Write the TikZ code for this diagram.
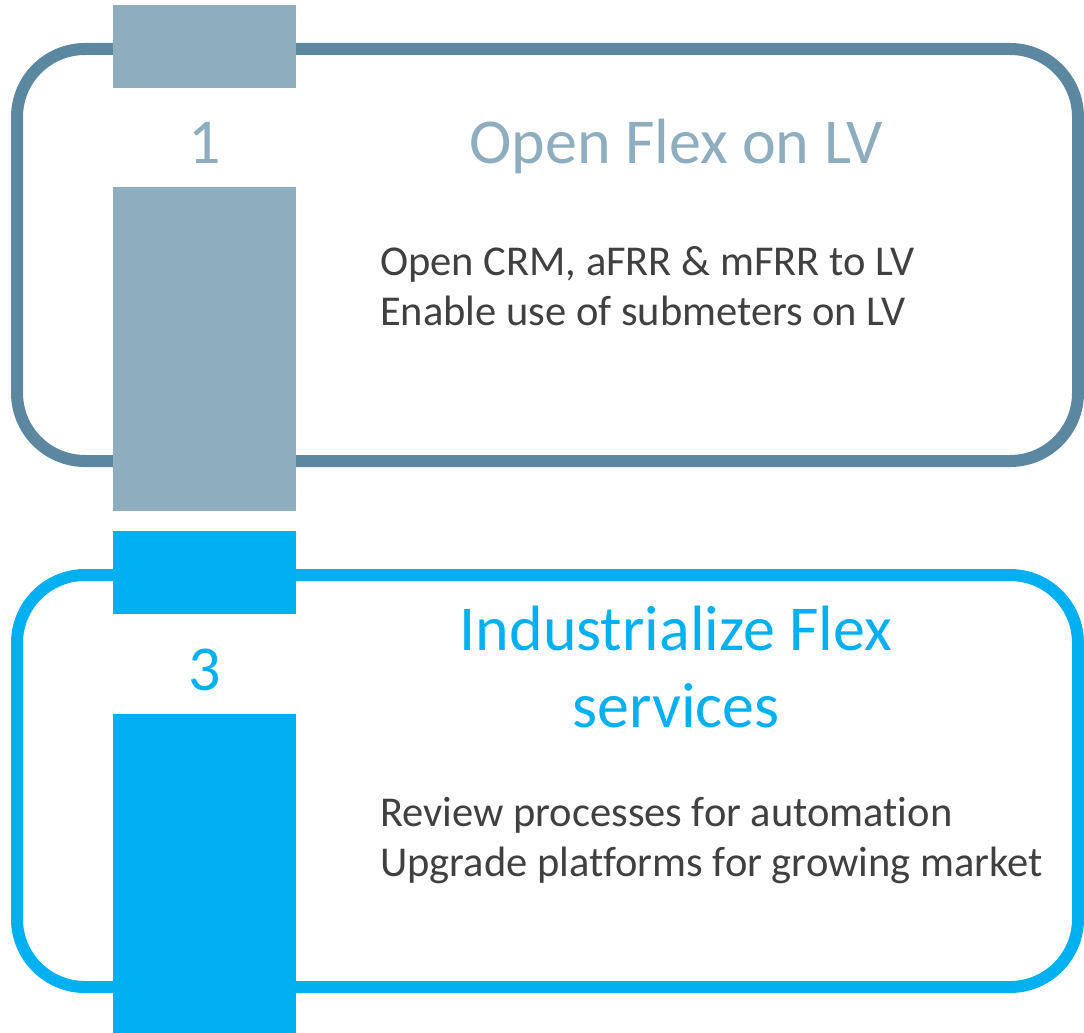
\documentclass[tikz,border=0pt]{standalone}
\usepackage{fontspec}
\setmainfont[Ligatures=NoCommon]{Carlito}
\definecolor{slateline}{HTML}{5B87A0}
\definecolor{slatebar}{HTML}{8EADBE}
\definecolor{skyblue}{HTML}{00B0F0}
\definecolor{bodygray}{HTML}{404040}
\tikzset{
  frame/.style={line width=12pt, rounded corners=68pt, fill=white},
  numlabel/.style={font=\fontsize{64}{64}\selectfont, anchor=base},
  titlelabel/.style={font=\fontsize{64}{77}\selectfont, anchor=base, align=center},
  bodylabel/.style={font=\fontsize{42.5}{50}\selectfont, text=bodygray, anchor=base west, align=left, inner sep=0pt},
}
\begin{document}
\begin{tikzpicture}[x=1pt,y=-1pt]
\useasboundingbox (0,0) rectangle (1084,1033);

% step 1: slate frame and bar (multi-line nodes sit on their last baseline)
\draw[frame, draw=slateline] (17,49) rectangle (1078,461);
\fill[slatebar] (113,5) rectangle (296,88);
\fill[slatebar] (113,187) rectangle (296,511);
\node[numlabel, text=slatebar] (n1) at (204.5,163) {1};
\node[titlelabel, text=slatebar] (t1) at (676,163) {Open Flex on LV};
\node[bodylabel] (b1) at (380,325) {Open CRM, aFRR \& mFRR to LV\\Enable use of submeters on LV};

% step 3: blue frame and bar
\draw[frame, draw=skyblue] (17,575) rectangle (1078,987);
\fill[skyblue] (113,531) rectangle (296,614);
\fill[skyblue] (113,714) rectangle (296,1033);
\node[numlabel, text=skyblue] (n3) at (204.5,690) {3};
\node[titlelabel, text=skyblue] (t3) at (676,727) {Industrialize Flex\\services};
\node[bodylabel] (b3) at (380,876) {Review processes for automation\\Upgrade platforms for growing market};
\end{tikzpicture}
\end{document}
